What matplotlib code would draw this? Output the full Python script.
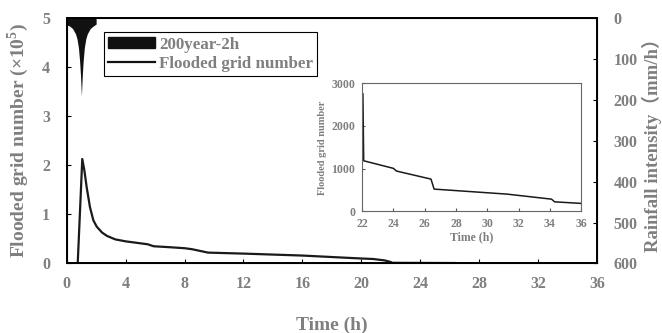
import matplotlib.pyplot as plt
from matplotlib.patches import Patch
from matplotlib.lines import Line2D

plt.rcParams['font.family'] = ['Liberation Serif', 'Noto Sans CJK SC']
plt.rcParams['font.weight'] = 'bold'
plt.rcParams['mathtext.fontset'] = 'custom'
plt.rcParams['mathtext.rm'] = 'Liberation Serif:bold'
plt.rcParams['mathtext.bf'] = 'Liberation Serif:bold'

gray = '#7f7f7f'

# rainfall (200year-2h), mm/h
rain_t = [0, 0.2, 0.4, 0.6, 0.7, 0.8, 0.88, 0.94, 1.0, 1.06, 1.12, 1.2, 1.3, 1.4, 1.6, 1.8, 2.0]
rain_i = [16, 19, 25, 38, 50, 72, 105, 140, 190, 140, 105, 72, 50, 38, 25, 19, 14]

# flooded grid number (x10^5)
flood_t = [0, 0.75, 1.06, 1.2, 1.36, 1.58, 1.81, 2.04, 2.4, 2.74, 3.3, 4, 5, 5.5, 5.9, 7, 8, 8.5,
           9.6, 12, 14, 16, 18, 20, 20.8, 21.6, 22.0, 22.1, 24.0, 24.2, 26.4, 26.6,
           31.25, 34.1, 34.3, 36]
flood_n = [0, 0, 2.13, 1.9, 1.55, 1.15, 0.88, 0.75, 0.63, 0.56, 0.49, 0.45, 0.41, 0.39, 0.35,
           0.33, 0.31, 0.29, 0.22, 0.20, 0.18, 0.16, 0.13, 0.10, 0.09, 0.06, 0.0275,
           0.0119, 0.0101, 0.0095, 0.0076, 0.0052, 0.0041, 0.0029, 0.0023, 0.0019]

# inset: flooded grid number after 22 h
ins_t = [22.05, 22.1, 24.0, 24.2, 26.4, 26.6, 31.25, 34.1, 34.3, 36]
ins_n = [2750, 1186, 1008, 945, 757, 523, 406, 288, 225, 188]

fig = plt.figure(figsize=(6.62, 3.33), dpi=100)
ax = fig.add_axes([0.1007, 0.209, 0.8013, 0.736])
ax.plot(flood_t, flood_n, color='#1a1a1a', lw=1.6)
ax.set_xlim(0, 36)
ax.set_ylim(0, 5)
ax.set_xticks(range(0, 37, 4))
ax.set_yticks(range(0, 6))
ax.tick_params(direction='in', colors='black', labelcolor=gray, labelsize=11.5, length=3)
ax.tick_params(axis='y', pad=12)
ax.tick_params(axis='x', pad=9)
for lbl in ax.get_xticklabels() + ax.get_yticklabels():
    lbl.set_fontweight('bold')
ax.set_xlabel('Time (h)', color=gray, fontsize=14, fontweight='bold', labelpad=18)
ax.set_ylabel(r'Flooded grid number ($\times$10$^{5}$)', color=gray, fontsize=14,
              fontweight='bold', labelpad=8)
for s in ax.spines.values():
    s.set_linewidth(1.4)

ax2 = ax.twinx()
ax2.fill_between(rain_t, 0, rain_i, color='#111111', lw=0)
ax2.set_ylim(600, 0)
ax2.set_yticks(range(0, 601, 100))
ax2.tick_params(direction='in', colors='black', labelcolor=gray, labelsize=11.5, length=3, pad=12)
for lbl in ax2.get_yticklabels():
    lbl.set_fontweight('bold')
ax2.set_ylabel('Rainfall intensity（mm/h）', color=gray, fontsize=13.5, fontweight='bold', labelpad=3)

handles = [Patch(facecolor='#111111', edgecolor='#111111'),
           Line2D([0], [0], color='#111111', lw=1.6)]
leg = ax.legend(handles, ['200year-2h', 'Flooded grid number'], loc='upper left',
                bbox_to_anchor=(0.07, 0.943), borderaxespad=0, fancybox=False, framealpha=1,
                edgecolor='black', fontsize=12.2, handlelength=2.8, handleheight=0.6,
                handletextpad=0.2, borderpad=0.25, labelspacing=0.2)
leg.get_frame().set_linewidth(0.8)
for t in leg.get_texts():
    t.set_color(gray)
    t.set_fontweight('bold')

ins = fig.add_axes([0.547, 0.365, 0.331, 0.385])
ins.plot(ins_t, ins_n, color='#1a1a1a', lw=1.1)
ins.set_xlim(22, 36)
ins.set_ylim(0, 3000)
ins.set_xticks(range(22, 37, 2))
ins.set_yticks([0, 1000, 2000, 3000])
ins.tick_params(direction='in', labelsize=8.5, length=2, colors='#555555', pad=5)
for lbl in ins.get_xticklabels() + ins.get_yticklabels():
    lbl.set_color(gray)
    lbl.set_fontweight('bold')
ins.set_xlabel('Time (h)', color=gray, fontsize=8.5, fontweight='bold', labelpad=1)
ins.set_ylabel('Flooded grid number', color=gray, fontsize=7.5, fontweight='bold', labelpad=3)
for s in ins.spines.values():
    s.set_color('#666666')
    s.set_linewidth(0.8)

fig.savefig('out.png', dpi=100)
